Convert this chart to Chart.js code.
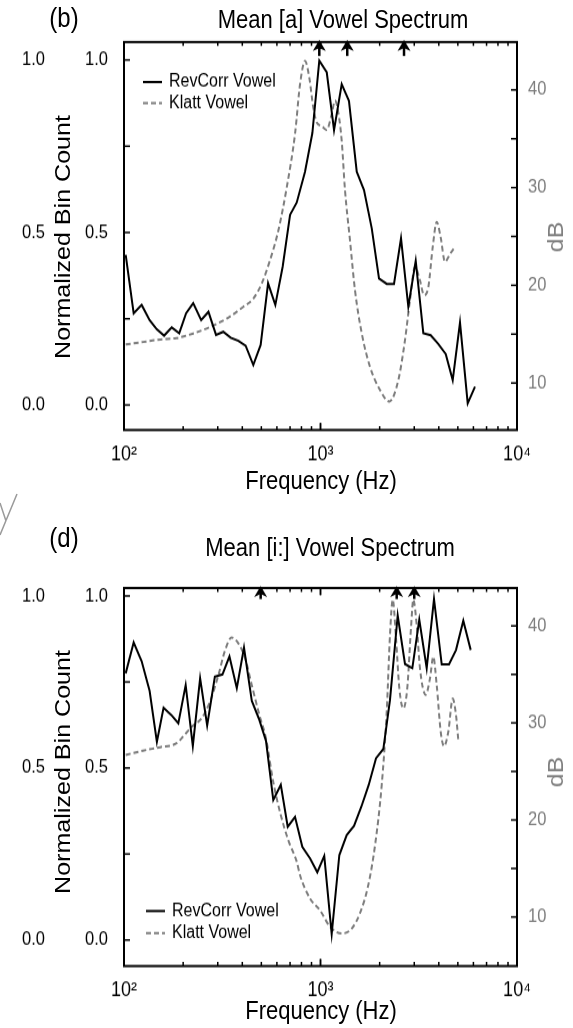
<!DOCTYPE html>
<html><head><meta charset="utf-8">
<script src="https://cdn.jsdelivr.net/npm/chart.js@4.4.1/dist/chart.umd.min.js"></script>
<style>
html,body{margin:0;padding:0;background:#fff;width:573px;height:1028px;overflow:hidden;}
body{position:relative;font-family:"Liberation Sans",Arial,sans-serif;}
.wrap{position:absolute;left:0;width:573px;transform-origin:0 0;}
.t{position:absolute;white-space:nowrap;color:#000;line-height:1;font-size:22px;}
</style></head><body>

<div class="wrap" id="w1"><canvas id="c1"></canvas></div>
<div class="wrap" id="w2"><canvas id="c2"></canvas></div>

<div class="t" style="left:64px;top:18px;font-size:24px;transform:translate(-50%,-50%) scaleY(1.14)">(b)</div>
<div class="t" style="left:343px;top:20px;transform:translate(-50%,-50%) scaleY(1.14)">Mean [a] Vowel Spectrum</div>
<div class="t" style="left:63px;top:237px;transform:translate(-50%,-50%) scale(1,1.14) rotate(-90deg)">Normalized Bin Count</div>
<div class="t" style="left:556px;top:237px;color:#808080;transform:translate(-50%,-50%) scale(1,1.14) rotate(-90deg)">dB</div>
<div class="t" style="left:321px;top:481px;transform:translate(-50%,-50%) scaleY(1.14)">Frequency (Hz)</div>

<div class="t" style="left:64px;top:538px;font-size:24px;transform:translate(-50%,-50%) scaleY(1.14)">(d)</div>
<div class="t" style="left:330px;top:548px;transform:translate(-50%,-50%) scaleY(1.14)">Mean [i:] Vowel Spectrum</div>
<div class="t" style="left:63px;top:772px;transform:translate(-50%,-50%) scale(1,1.14) rotate(-90deg)">Normalized Bin Count</div>
<div class="t" style="left:556px;top:772px;color:#808080;transform:translate(-50%,-50%) scale(1,1.14) rotate(-90deg)">dB</div>
<div class="t" style="left:321px;top:1011px;transform:translate(-50%,-50%) scaleY(1.14)">Frequency (Hz)</div>

<svg style="position:absolute;left:0;top:485px" width="30" height="60">
  <path d="M17 9 L0 50 M0 18 L6 36" stroke="#9a9a9a" stroke-width="1.5" fill="none"/>
</svg>

<script>
// ---------- data ----------
const xTickValues = [100, 1000, 10000];
const xTickLabels = ['10²', '10³', '10⁴'];
const yTickValues = [0, 0.25, 0.5, 0.75, 1];
const yTickLabels = ['0.0', '', '0.5', '', '1.0'];
const dbTickValues = [10, 15, 20, 25, 30, 35, 40];
const dbTickLabels = ['10', '', '20', '', '30', '', '40'];
const legendLabels = ['RevCorr Vowel', 'Klatt Vowel'];

// Panel (b): Mean [a]
const aRevFreq = [102,112,123,135,147,160,175,191,207,225,247,269,294,320,349,382,416,455,496,541,589,642,700,757,834,909,986,1076,1172,1282,1396,1529,1665,1823,1985,2173,2366,2569,2798,3052,3336,3638,3977,4338,4708,5128,5612,6113];
const aRevVal = [0.435,0.266,0.29,0.246,0.219,0.201,0.225,0.208,0.266,0.295,0.246,0.27,0.203,0.212,0.195,0.186,0.172,0.116,0.174,0.353,0.29,0.401,0.551,0.587,0.676,0.788,0.998,0.964,0.797,0.93,0.881,0.676,0.623,0.512,0.367,0.351,0.351,0.483,0.285,0.418,0.208,0.202,0.177,0.148,0.072,0.239,0.005,0.053];
const aKlattFreq = [102,125,153,185,225,274,333,405,455,502,553,610,673,742,787,834,877,919,957,1014,1075,1140,1185,1232,1282,1333,1413,1498,1621,1786,2008,2239,2489,2692,2854,3026,3209,3363,3537,3724,3903,4090,4301,4560,4779];
const aKlattDb = [13.95,14.2,14.46,14.6,15.07,15.74,16.6,17.8,18.64,20.17,22.55,25.6,30.0,35.5,40.6,42.96,41.26,38.2,36.66,36.3,35.9,37.5,38.9,37.7,34.8,29.7,24.6,19.5,15.1,11.66,9.29,8.1,10.3,14.4,18.5,21.9,20.5,19.0,19.8,23.9,26.5,24.9,22.4,23.2,23.8];
const aArrows = [986, 1368, 2661];

// Panel (d): Mean [i:]
const iRevFreq = [102,112,123,135,147,159,174,189,206,224,244,265,290,317,344,375,408,447,486,528,575,628,681,742,808,885,963,1045,1140,1247,1359,1481,1613,1760,1916,2088,2258,2471,2692,2933,3182,3471,3781,4139,4508,4894,5330,5813];
const iRevVal = [0.775,0.865,0.81,0.724,0.576,0.675,0.654,0.63,0.741,0.564,0.761,0.623,0.765,0.772,0.824,0.732,0.85,0.695,0.643,0.579,0.407,0.451,0.329,0.358,0.271,0.237,0.197,0.244,0.017,0.247,0.305,0.332,0.387,0.451,0.528,0.555,0.698,0.943,0.802,0.79,0.931,0.79,0.991,0.801,0.801,0.843,0.928,0.843];
const iKlattFreq = [102,125,153,185,200,221,249,274,302,327,353,382,413,447,486,528,575,628,686,757,787,885,994,1118,1282,1441,1589,1751,1895,2049,2173,2258,2331,2423,2518,2639,2765,2888,2967,3087,3209,3431,3608,3750,3903,4090,4251,4472,4708,4894,5028];
const iKlattDb = [26.7,27.14,27.5,27.9,28.6,29.6,30.5,32.2,34.9,37.5,38.8,38.2,36.7,33.9,31.0,28.4,23.9,20.5,17.9,15.7,14.3,11.9,10.7,9.0,8.3,8.8,10.4,13.3,17.4,23.6,31.2,39.1,42.7,38.7,33.6,31.5,33.6,39.8,42.7,40.1,35.6,32.9,34.6,36.8,33.9,29.1,27.6,29.1,32.5,30.8,28.2];
const iArrows = [496, 2442, 3000];

// ---------- drawing ----------
const S = 1.14;
const FONT = '"Liberation Sans", Arial, sans-serif';
const GRAY = '#7d7d7d';

const framePlugin = {
  id: 'frame',
  afterDraw(chart) {
    const o = chart.options.plugins.frame;
    const {ctx, chartArea: a, scales} = chart;
    const sy = o.sy;
    ctx.save();
    ctx.strokeStyle = '#000'; ctx.lineWidth = 2; ctx.setLineDash([]);
    ctx.strokeRect(a.left, a.top, a.right - a.left, a.bottom - a.top);
    ctx.lineWidth = 1.5;
    const xs = scales.x;
    for (let d = 100; d < 10000; d *= 10) {
      for (let k = 1; k <= 10; k++) {
        const v = d * k; const px = xs.getPixelForValue(v);
        const len = (k === 1 || k === 10) ? 7 / sy : 4 / sy;
        ctx.beginPath();
        ctx.moveTo(px, a.bottom); ctx.lineTo(px, a.bottom - len);
        ctx.moveTo(px, a.top); ctx.lineTo(px, a.top + len);
        ctx.stroke();
      }
    }
    yTickValues.forEach(v => {
      const py = scales.y.getPixelForValue(v);
      ctx.beginPath(); ctx.moveTo(a.left, py); ctx.lineTo(a.left + 6, py); ctx.stroke();
    });
    dbTickValues.forEach(v => {
      const py = scales.y2.getPixelForValue(v);
      ctx.beginPath(); ctx.moveTo(a.right, py); ctx.lineTo(a.right - 6, py); ctx.stroke();
    });
    ctx.fillStyle = '#000'; ctx.font = '16.5px ' + FONT;
    ctx.textAlign = 'right'; ctx.textBaseline = 'middle';
    yTickValues.forEach((v, i) => {
      if (yTickLabels[i]) ctx.fillText(yTickLabels[i], 45, scales.y.getPixelForValue(v));
    });
    // formant arrows
    ctx.fillStyle = '#000'; ctx.strokeStyle = '#000';
    o.arrows.forEach(f => {
      const px = xs.getPixelForValue(f);
      const tip = a.top - 2 / sy;
      ctx.lineWidth = 2.5;
      ctx.beginPath(); ctx.moveTo(px, tip + 6 / sy); ctx.lineTo(px, tip + o.arrowLen / sy); ctx.stroke();
      ctx.beginPath();
      ctx.moveTo(px, tip);
      ctx.lineTo(px - 6.5, tip + 11 / sy);
      ctx.lineTo(px, tip + 8 / sy);
      ctx.lineTo(px + 6.5, tip + 11 / sy);
      ctx.closePath(); ctx.fill();
    });
    // legend
    const L = o.legend;
    chart.data.datasets.forEach((ds, i) => {
      const y = (L.y[i] - o.cssTop) / sy;
      ctx.strokeStyle = ds.borderColor; ctx.lineWidth = 2;
      ctx.setLineDash(ds.borderDash || []);
      ctx.beginPath(); ctx.moveTo(L.x, y); ctx.lineTo(L.x + 19, y); ctx.stroke();
      ctx.setLineDash([]);
      ctx.fillStyle = '#000'; ctx.font = '16px ' + FONT;
      ctx.textAlign = 'left'; ctx.textBaseline = 'middle';
      ctx.fillText(ds.label, L.x + 26, y);
    });
    ctx.restore();
  }
};

function makePanel(p) {
  const H = Math.round(p.cssHeight / S);
  const sy = p.cssHeight / H;
  const wrap = document.getElementById(p.wrap);
  wrap.style.top = p.cssTop + 'px';
  wrap.style.height = H + 'px';
  wrap.style.transform = 'scaleY(' + sy + ')';
  const cv = document.getElementById(p.canvas);
  cv.width = 573; cv.height = H;
  cv.style.width = '573px'; cv.style.height = H + 'px';
  const padTop = (p.boxTop - p.cssTop) / sy;
  const xH = H - (p.boxBottom - p.cssTop) / sy;
  const tickFont = {family: FONT, size: 16.5};
  new Chart(cv, {
    type: 'line',
    data: {
      datasets: [
        { label: legendLabels[0], data: p.revF.map((f, i) => ({x: f, y: p.revV[i]})),
          yAxisID: 'y', borderColor: '#000', borderWidth: 2, pointRadius: 0, tension: 0, fill: false },
        { label: legendLabels[1], data: p.klF.map((f, i) => ({x: f, y: p.klV[i]})),
          yAxisID: 'y2', borderColor: GRAY, borderWidth: 2, borderDash: [5, 3], pointRadius: 0,
          tension: 0.3, cubicInterpolationMode: 'monotone', fill: false }
      ]
    },
    options: {
      responsive: false, animation: false, events: [],
      layout: { padding: { top: padTop, left: 0, right: 0, bottom: 0 }, autoPadding: false },
      plugins: {
        legend: { display: false }, title: { display: false }, tooltip: { enabled: false },
        frame: { sy, arrows: p.arrows, arrowLen: p.arrowLen, legend: p.legend, cssTop: p.cssTop }
      },
      scales: {
        x: {
          type: 'logarithmic', position: 'bottom', min: 100, max: 10000,
          grid: { display: false, drawTicks: false }, border: { display: false },
          afterBuildTicks: s => { s.ticks = xTickValues.map(v => ({value: v, major: true})); },
          ticks: { autoSkip: false, maxRotation: 0, padding: p.xPad, font: {family: FONT, size: 18}, color: '#000',
                   callback: (v, i) => xTickLabels[i] },
          afterFit: s => { s.height = xH; }
        },
        y: {
          type: 'linear', position: 'left', min: p.yMin, max: p.yMax,
          grid: { display: false, drawTicks: false }, border: { display: false },
          afterBuildTicks: s => { s.ticks = yTickValues.map(v => ({value: v})); },
          ticks: { autoSkip: false, padding: 16, font: tickFont, color: '#000',
                   callback: (v, i) => yTickLabels[i] },
          afterFit: s => { s.width = 124; }
        },
        y2: {
          type: 'linear', position: 'right', min: p.dbMin, max: p.dbMax,
          grid: { display: false, drawTicks: false }, border: { display: false },
          afterBuildTicks: s => { s.ticks = dbTickValues.map(v => ({value: v})); },
          ticks: { autoSkip: false, padding: 11, font: tickFont, color: GRAY,
                   callback: (v, i) => dbTickLabels[i] },
          afterFit: s => { s.width = 56; }
        }
      }
    },
    plugins: [framePlugin]
  });
}

makePanel({
  wrap: 'w1', canvas: 'c1', cssTop: 0, cssHeight: 515, boxTop: 42, boxBottom: 430,
  yMin: -0.0725, yMax: 1.052, dbMin: 5.19, dbMax: 44.9, xPad: 11,
  revF: aRevFreq, revV: aRevVal, klF: aKlattFreq, klV: aKlattDb,
  arrows: aArrows, arrowLen: 16, legend: { x: 143, y: [82, 103] }
});
makePanel({
  wrap: 'w2', canvas: 'c2', cssTop: 515, cssHeight: 513, boxTop: 588, boxBottom: 966,
  yMin: -0.0756, yMax: 1.023, dbMin: 4.95, dbMax: 43.9, xPad: 11,
  revF: iRevFreq, revV: iRevVal, klF: iKlattFreq, klV: iKlattDb,
  arrows: iArrows, arrowLen: 13, legend: { x: 146, y: [911, 933] }
});
</script>
</body></html>
